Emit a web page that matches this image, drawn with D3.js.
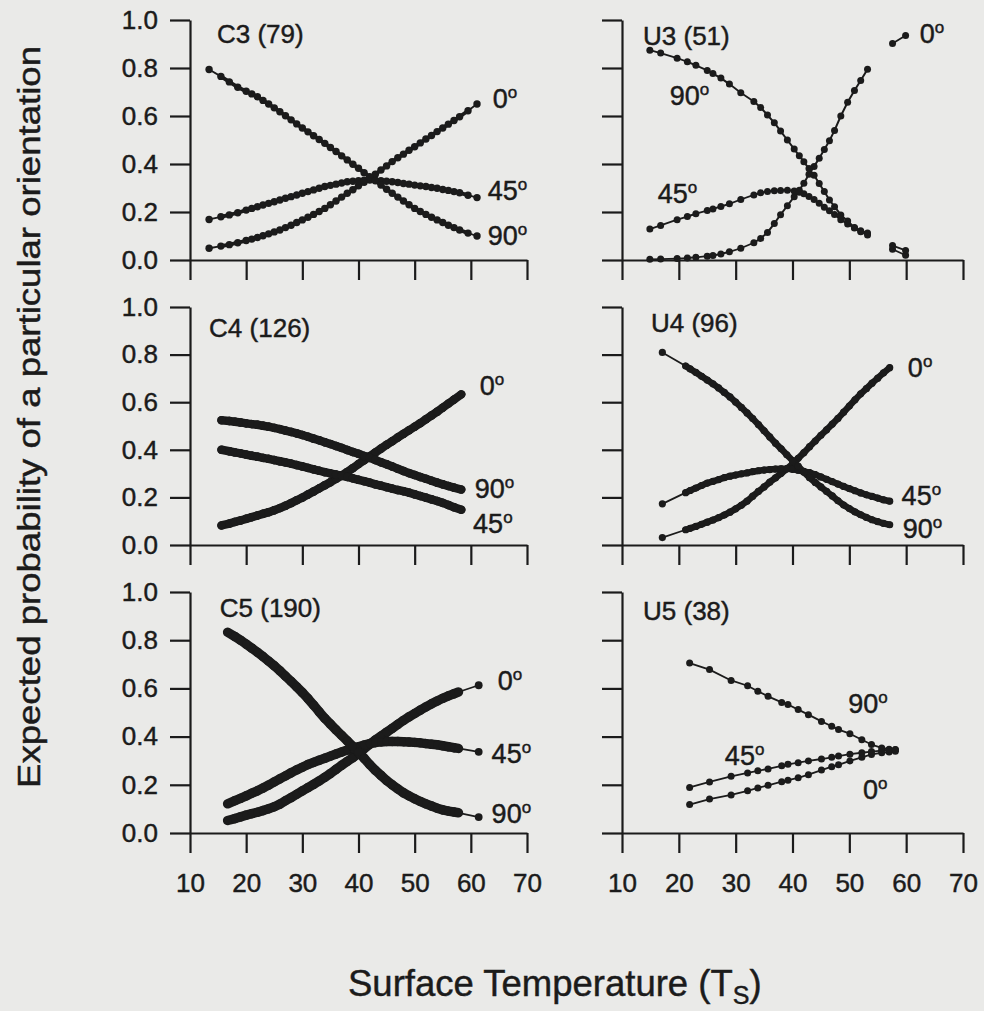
<!DOCTYPE html>
<html><head><meta charset="utf-8">
<script src="https://cdn.jsdelivr.net/npm/d3@7"></script>
<style>html,body{margin:0;padding:0;background:#eaeae8;} svg{display:block}</style>
</head><body><svg id="chart" width="984" height="1011"></svg>
<script>
// ---------------- DATA ----------------
const panelNames = ["C3 (79)", "U3 (51)", "C4 (126)", "U4 (96)", "C5 (190)", "U5 (38)"];
const seriesNames = ["0", "45", "90"];   // orientation (degrees)
const xTickValues = [10, 20, 30, 40, 50, 60, 70];
const yTickValues = [0, 0.2, 0.4, 0.6, 0.8, 1.0];

// C3
const c3Temp = [13.4,15.5,17,18.5,20,21,22,23,24,25,26,27,28,29,30,31,32,33,34,35,36,37,38,39,40,41,42,43,44,45,46,47,48,49,50,51,52,53,54,55,56,57,58,59.5,61.1];
const c3Deg0 = [.049,.058,.064,.072,.081,.087,.094,.101,.109,.117,.125,.135,.145,.156,.167,.178,.19,.202,.215,.23,.246,.262,.278,.293,.309,.324,.34,.357,.375,.392,.41,.426,.441,.457,.472,.488,.504,.519,.535,.55,.566,.581,.597,.622,.65];
const c3Deg45 = [.169,.18,.188,.197,.208,.215,.222,.229,.236,.243,.25,.257,.264,.271,.278,.285,.292,.299,.306,.311,.316,.321,.326,.328,.33,.332,.333,.332,.33,.328,.326,.323,.319,.316,.312,.309,.306,.302,.299,.294,.29,.285,.28,.27,.26];
const c3Deg90 = [.794,.765,.742,.72,.703,.692,.68,.665,.65,.634,.618,.601,.584,.567,.55,.534,.518,.502,.486,.469,.452,.434,.417,.399,.382,.364,.347,.33,.312,.295,.278,.262,.246,.23,.215,.202,.19,.178,.167,.156,.145,.135,.125,.112,.10];

// U3 (null = gap in observations)
const u3Temp = [14.9,16.8,19.7,21.5,23,25,26,27.4,28.9,30.9,33.2,34.4,35.6,36.8,37.9,39.1,40.3,41.2,42,42.9,43.8,44.7,45.6,46.5,47.4,48.5,49.7,50.9,52,53.2,null,57.6,59.9];
const u3Deg0 = [.003,.004,.006,.008,.011,.016,.019,.025,.034,.049,.072,.09,.115,.152,.189,.226,.264,.291,.32,.357,.39,.424,.46,.497,.54,.6,.657,.706,.748,.795,null,.902,.935];
const u3Deg45 = [.129,.144,.168,.181,.193,.206,.213,.223,.234,.252,.271,.28,.285,.289,.29,.291,.288,.282,.276,.265,.252,.236,.22,.205,.19,.168,.15,.133,.122,.112,null,.045,.02];
const u3Deg90 = [.874,.862,.841,.826,.811,.79,.777,.758,.733,.697,.66,.635,.604,.572,.537,.5,.462,.434,.409,.381,.353,.319,.285,.25,.222,.188,.163,.135,.118,.104,null,.06,.04];

// C4
const c4Temp = [15.6,17,18,19,20,21,22,23,24,25,26,27,28,29,30,31,32,33,34,35,36,37,38,39,40,41,42,43,44,45,46,47,48,49,50,51,52,53,54,55,56,57,58.3];
const c4Deg0 = [.082,.09,.097,.103,.11,.117,.124,.131,.138,.146,.155,.165,.176,.188,.199,.212,.225,.238,.251,.264,.278,.292,.307,.323,.34,.356,.373,.389,.405,.421,.436,.452,.467,.482,.497,.512,.528,.544,.56,.577,.594,.611,.633];
const c4Deg45 = [.40,.394,.389,.385,.38,.375,.371,.366,.362,.357,.352,.347,.342,.336,.33,.324,.318,.312,.306,.301,.296,.291,.286,.28,.274,.268,.262,.255,.249,.243,.237,.231,.226,.22,.213,.206,.199,.192,.185,.177,.168,.159,.148];
const c4Deg90 = [.524,.521,.518,.515,.511,.508,.505,.501,.497,.492,.487,.481,.475,.469,.462,.455,.447,.44,.432,.424,.416,.408,.399,.391,.383,.374,.366,.357,.348,.339,.33,.32,.311,.302,.294,.286,.278,.27,.262,.255,.248,.241,.233];

// U4
const u4Temp = [17.1,21.2,22,23,24,25,26,27,28,29,30,31,32,33,34,35,36,37,38,39,40,41,42,43,44,45,46,47,48,49,50,51,52,53,54,55,56,57.1];
const u4Deg0 = [.031,.064,.07,.078,.087,.096,.105,.115,.126,.138,.152,.167,.184,.205,.225,.244,.264,.282,.301,.32,.34,.364,.388,.413,.437,.461,.484,.508,.532,.558,.584,.61,.635,.657,.68,.701,.723,.745];
const u4Deg45 = [.173,.22,.229,.239,.25,.26,.267,.275,.283,.289,.294,.299,.303,.308,.312,.315,.317,.319,.32,.32,.318,.314,.309,.304,.296,.286,.276,.266,.256,.246,.237,.228,.219,.211,.204,.197,.19,.184];
const u4Deg90 = [.809,.752,.74,.725,.709,.693,.677,.66,.641,.622,.6,.578,.555,.531,.506,.48,.454,.428,.404,.379,.355,.331,.306,.283,.263,.244,.225,.206,.186,.168,.153,.139,.127,.116,.106,.098,.091,.085];

// C5
const c5Temp = [16.7,18,19,20,21,22,23,24,25,26,27,28,29,30,31,32,33,34,35,36,37,38,39,40,41,42,43,44,45,46,47,48,49,50,51,52,53,54,55,56,57,57.8,61.4];
const c5Deg0 = [.052,.06,.067,.074,.08,.086,.093,.101,.109,.12,.134,.147,.161,.175,.188,.202,.216,.231,.247,.264,.281,.297,.313,.33,.35,.368,.386,.402,.418,.434,.451,.467,.482,.496,.51,.523,.536,.548,.559,.569,.578,.585,.613];
const c5Deg45 = [.121,.134,.144,.154,.165,.175,.187,.199,.212,.225,.237,.25,.262,.273,.284,.293,.302,.31,.319,.328,.336,.344,.351,.358,.365,.371,.375,.378,.38,.38,.38,.379,.378,.376,.374,.371,.368,.366,.362,.358,.354,.351,.337];
const c5Deg90 = [.833,.815,.8,.784,.767,.75,.732,.713,.694,.673,.651,.629,.606,.583,.558,.531,.503,.476,.452,.428,.405,.382,.359,.336,.31,.284,.26,.239,.218,.2,.183,.167,.154,.142,.131,.121,.112,.103,.096,.091,.087,.084,.066];

// U5
const u5Temp = [21.9,25.4,29.2,32.1,33.9,35.7,38.1,39.2,41,42.8,45.1,46.9,48.1,50.1,52.2,53.9,55.7,57,58.1];
const u5Deg0 = [.118,.141,.158,.175,.187,.198,.213,.219,.229,.242,.261,.275,.283,.299,.314,.326,.333,.336,.339];
const u5Deg45 = [.189,.212,.235,.249,.258,.266,.279,.285,.292,.299,.307,.314,.319,.327,.333,.338,.342,.344,.346];
const u5Deg90 = [.705,.678,.633,.611,.588,.567,.542,.533,.512,.491,.463,.443,.429,.412,.387,.367,.353,.348,.345];

// ---------------- LAYOUT / STYLE ----------------
const colPx = [[190, 527], [622, 963]];
const rowPx = [[260, 20], [545, 307], [833, 592]];
const panelStyle = [
  {thick: 3.8, r: 3.7}, {thick: 2, r: 3.5},
  {thick: 8.5, r: 4.2}, {thick: 6.5, r: 3.6},
  {thick: 9.5, r: 3.9}, {thick: 2, r: 3.5}
];
// annotation anchors in data space [T, p] (left/baseline of text)
const titleAt = [[14.8, .904], [13.7, .896], [13.4, .874], [15.1, .895], [15.3, .896], [13.7, .884]];
const labelAt = [
  [[63.9, .633], [63.0, .25], [63.0, .0625]],
  [[62.4, .904], [16.3, .2375], [18.4, .646]],
  [[61.6, .63], [60.4, .05], [60.7, .197]],
  [[60.3, .706], [59.2, .168], [59.4, .03]],
  [[64.8, .593], [63.7, .29], [63.7, .041]],
  [[52.4, .141], [28.1, .282], [49.8, .498]]
];

const panelData = [
  {temp: c3Temp, series: [c3Deg0, c3Deg45, c3Deg90]},
  {temp: u3Temp, series: [u3Deg0, u3Deg45, u3Deg90]},
  {temp: c4Temp, series: [c4Deg0, c4Deg45, c4Deg90]},
  {temp: u4Temp, series: [u4Deg0, u4Deg45, u4Deg90]},
  {temp: c5Temp, series: [c5Deg0, c5Deg45, c5Deg90]},
  {temp: u5Temp, series: [u5Deg0, u5Deg45, u5Deg90]}
];

const ink = "#1b1b1b";
const font = "'Liberation Sans', Arial, Helvetica, sans-serif";
const svg = d3.select("#chart");
svg.append("rect").attr("width", 984).attr("height", 1011).attr("fill", "#eaeae8");

function heavy(sel) { return sel.attr("stroke", ink).attr("stroke-width", 0.45); }

panelData.forEach((pd, i) => {
  const col = i % 2, row = Math.floor(i / 2);
  const x = d3.scaleLinear().domain([10, 70]).range(colPx[col]);
  const y = d3.scaleLinear().domain([0, 1]).range(rowPx[row]);
  const g = svg.append("g");
  const st = panelStyle[i];

  // axes
  const yAxis = d3.axisLeft(y).tickValues(yTickValues).tickSize(20).tickSizeOuter(0)
    .tickPadding(12).tickFormat(col === 0 ? d3.format(".1f") : () => "");
  const xAxis = d3.axisBottom(x).tickValues(xTickValues).tickSize(20).tickSizeOuter(0)
    .tickPadding(6).tickFormat(row === 2 ? d3.format("d") : () => "");
  const ya = g.append("g").attr("transform", `translate(${colPx[col][0]},0)`).call(yAxis);
  const xa = g.append("g").attr("transform", `translate(0,${rowPx[row][0]})`).call(xAxis);
  [ya, xa].forEach(a => {
    a.selectAll("path,line").attr("stroke", ink).attr("stroke-width", 2.2);
    heavy(a.selectAll("text").attr("fill", ink).attr("font-family", font));
  });
  ya.selectAll("text").attr("font-size", 26);
  xa.selectAll("text").attr("font-size", 26).attr("dy", "1.27em");

  // series
  const line = d3.line().x(d => x(d.t)).y(d => y(d.v));
  pd.series.forEach(vals => {
    const pts = pd.temp.map((t, k) => (t == null || vals[k] == null) ? null : {t: t, v: vals[k]});
    for (let k = 1; k < pts.length; k++) {
      const a = pts[k - 1], b = pts[k];
      if (!a || !b) continue;
      const dense = (b.t - a.t) <= 1.6;
      g.append("path").attr("d", line([a, b])).attr("fill", "none").attr("stroke", ink)
        .attr("stroke-width", dense ? st.thick : 1.8).attr("stroke-linecap", "round");
    }
    g.selectAll(null).data(pts.filter(p => p)).enter().append("circle")
      .attr("cx", d => x(d.t)).attr("cy", d => y(d.v)).attr("r", st.r).attr("fill", ink);
  });

  // panel title
  heavy(g.append("text").attr("x", x(titleAt[i][0])).attr("y", y(titleAt[i][1]))
    .attr("font-family", font).attr("font-size", 26).attr("fill", ink).text(panelNames[i]));

  // orientation labels
  seriesNames.forEach((s, k) => {
    const t = heavy(g.append("text").attr("x", x(labelAt[i][k][0])).attr("y", y(labelAt[i][k][1]))
      .attr("font-family", font).attr("font-size", 27).attr("fill", ink));
    t.append("tspan").text(s);
    t.append("tspan").attr("font-size", 17).attr("dy", -10).text("o");
  });
});

// axis titles
heavy(svg.append("text").attr("transform", "translate(40,417) rotate(-90)")
  .attr("text-anchor", "middle").attr("font-family", font).attr("font-size", 31)
  .attr("textLength", 742).attr("lengthAdjust", "spacingAndGlyphs").attr("fill", ink)
  .text("Expected probability of a particular orientation"));

const xt = heavy(svg.append("text").attr("x", 348).attr("y", 996).attr("font-family", font)
  .attr("font-size", 36.5).attr("fill", ink));
xt.append("tspan").text("Surface Temperature (T");
xt.append("tspan").attr("font-size", 25).attr("dy", 8).text("S");
xt.append("tspan").attr("dy", -8).text(")");
</script>
</body></html>
